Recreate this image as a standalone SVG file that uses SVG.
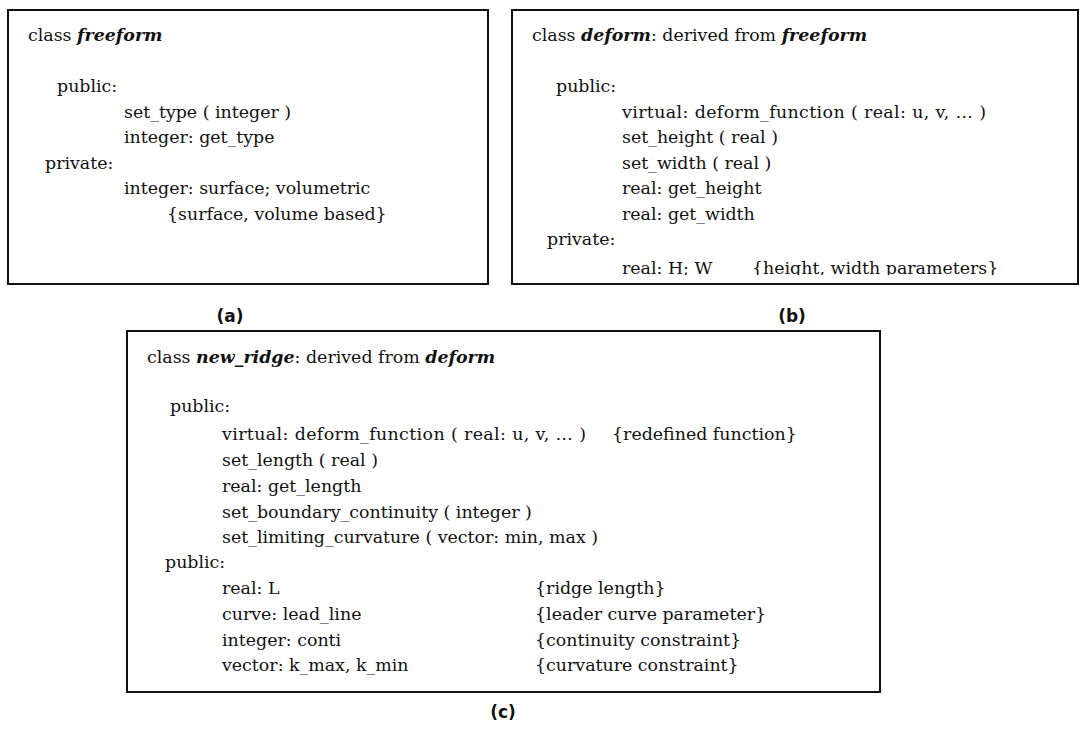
<svg xmlns="http://www.w3.org/2000/svg" width="1080" height="729" viewBox="0 0 1080 729">
  <style>
    .box { fill: #ffffff; stroke: #111111; stroke-width: 2; }
    .t { font-family: "DejaVu Serif", "Liberation Serif", serif; font-size: 17.4px; fill: #111111; }
    .bi { font-weight: bold; font-style: italic; }
    .lab { font-family: "DejaVu Sans", "Liberation Sans", sans-serif; font-size: 17px; font-weight: bold; fill: #111111; text-anchor: middle; }
  </style>
  <defs>
    <clipPath id="clipB">
      <rect x="512" y="10" width="566" height="265"/>
    </clipPath>
  </defs>
  <rect x="0" y="0" width="1080" height="729" fill="#ffffff"/>

  <g id="node-freeform">
    <rect class="box" x="8" y="10" width="480" height="274"/>
    <text class="t" x="28" y="41">class <tspan class="bi">freeform</tspan></text>
    <text class="t" x="57" y="92">public:</text>
    <text class="t" x="124" y="118">set_type ( integer )</text>
    <text class="t" x="124" y="143">integer: get_type</text>
    <text class="t" x="45" y="169">private:</text>
    <text class="t" x="124" y="194">integer: surface; volumetric</text>
    <text class="t" x="167" y="220">{surface, volume based}</text>
  </g>

  <g id="node-deform">
    <rect class="box" x="512" y="10" width="566" height="274"/>
    <g clip-path="url(#clipB)">
      <text class="t" x="532" y="41">class <tspan class="bi">deform</tspan>: derived from <tspan class="bi">freeform</tspan></text>
      <text class="t" x="556" y="92">public:</text>
      <text class="t" x="622" y="118" textLength="364" lengthAdjust="spacing">virtual: deform_function ( real: u, v, … )</text>
      <text class="t" x="622" y="143">set_height ( real )</text>
      <text class="t" x="622" y="169">set_width ( real )</text>
      <text class="t" x="622" y="194">real: get_height</text>
      <text class="t" x="622" y="220">real: get_width</text>
      <text class="t" x="547" y="245">private:</text>
      <text class="t" x="622" y="274">real: H; W</text>
      <text class="t" x="752" y="274">{height, width parameters}</text>
    </g>
  </g>

  <g id="node-new_ridge">
    <rect class="box" x="127" y="331" width="753" height="361"/>
    <text class="t" x="147" y="363">class <tspan class="bi">new_ridge</tspan>: derived from <tspan class="bi">deform</tspan></text>
    <text class="t" x="170" y="412">public:</text>
    <text class="t" x="222" y="440" textLength="364" lengthAdjust="spacing">virtual: deform_function ( real: u, v, … )</text>
    <text class="t" x="612" y="440">{redefined function}</text>
    <text class="t" x="222" y="466">set_length ( real )</text>
    <text class="t" x="222" y="492">real: get_length</text>
    <text class="t" x="222" y="518">set_boundary_continuity ( integer )</text>
    <text class="t" x="222" y="543">set_limiting_curvature ( vector: min, max )</text>
    <text class="t" x="165" y="568">public:</text>
    <text class="t" x="222" y="594">real: L</text>
    <text class="t" x="535" y="594">{ridge length}</text>
    <text class="t" x="222" y="620">curve: lead_line</text>
    <text class="t" x="535" y="620">{leader curve parameter}</text>
    <text class="t" x="222" y="646">integer: conti</text>
    <text class="t" x="535" y="646">{continuity constraint}</text>
    <text class="t" x="222" y="671">vector: k_max, k_min</text>
    <text class="t" x="535" y="671">{curvature constraint}</text>
  </g>

  <g id="labels">
    <text class="lab" x="230" y="322">(a)</text>
    <text class="lab" x="792" y="322">(b)</text>
    <text class="lab" x="503" y="718">(c)</text>
  </g>

  <g id="connectors"></g>
</svg>
